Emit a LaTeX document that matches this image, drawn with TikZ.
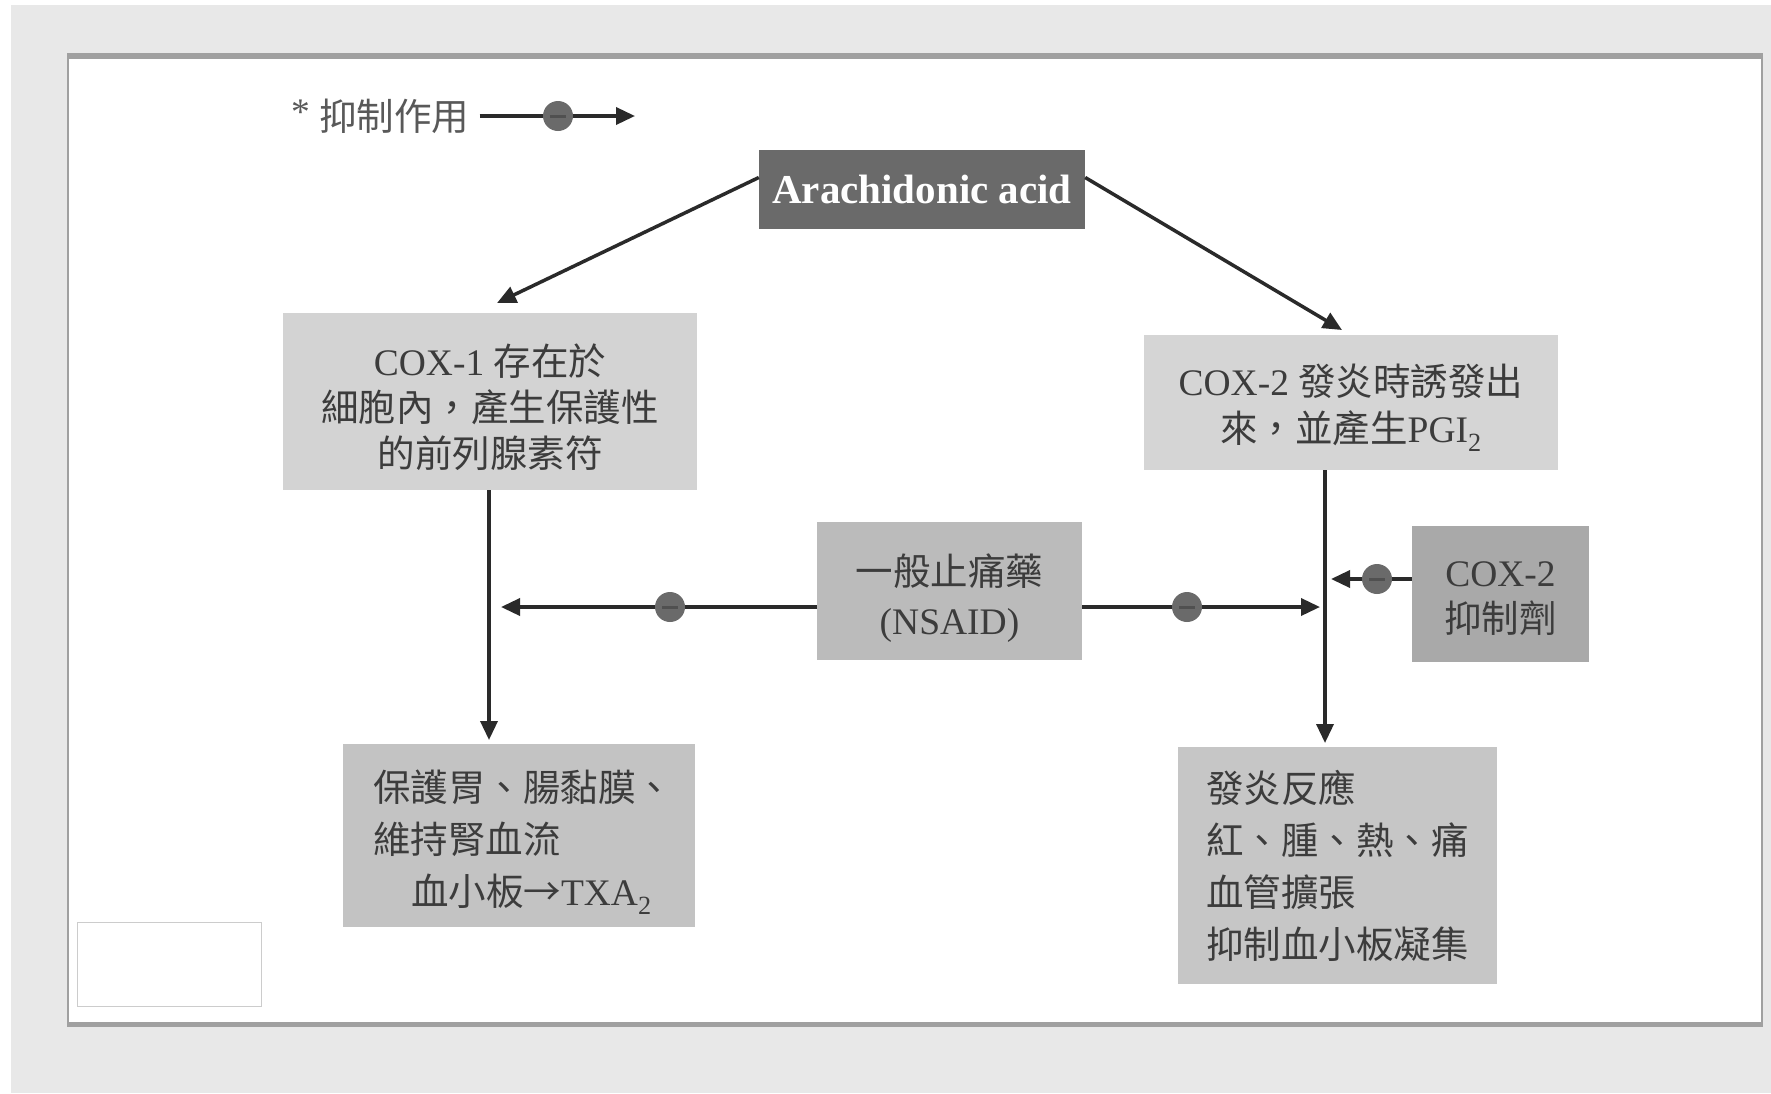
\documentclass[tikz,border=0pt]{standalone}
\usepackage{fontspec}
\setmainfont{Liberation Serif}
\newfontfamily\cjk{Noto Sans CJK TC}
\usetikzlibrary{arrows.meta,calc}
\definecolor{bgc}{HTML}{E8E8E8}
\definecolor{pbord}{HTML}{A0A0A0}
\definecolor{txt}{HTML}{3C3C3C}
\definecolor{ln}{HTML}{2A2A2A}
\definecolor{arc}{HTML}{6A6A6A}
\definecolor{cA}{HTML}{D3D3D3}
\definecolor{cB}{HTML}{D5D5D5}
\definecolor{cN}{HTML}{BBBBBB}
\definecolor{cI}{HTML}{A9A9A9}
\definecolor{cL}{HTML}{C3C3C3}
\definecolor{cR}{HTML}{C6C6C6}
\definecolor{inhc}{HTML}{6A6A6A}
\definecolor{inhd}{HTML}{505050}
\begin{document}
\begin{tikzpicture}[x=1pt,y=-1pt,
  box/.style={rectangle, inner sep=0pt},
  lab/.style={text=txt, align=center, inner sep=0pt},
  arr/.style={line width=3.5pt, draw=ln, -{Triangle[length=19pt,width=17pt]}},
  inh/.style={circle, fill=inhc, minimum size=30pt, inner sep=0pt,
    path picture={\draw[line width=3pt, inhd] ([xshift=-8pt]path picture bounding box.center) -- ([xshift=8pt]path picture bounding box.center);}}
]
\useasboundingbox (0,0) rectangle (1771,1093);
\fill[bgc] (0,0) rectangle (1771,1093);
\fill[white] (0,0) rectangle (11,1093);
\fill[white] (0,0) rectangle (1771,5);
% panel
\draw[pbord, fill=white, line width=1.5pt] (68,54) rectangle (1762,1026);
\draw[pbord, line width=5pt] (68,56) -- (1762,56);
\draw[pbord, line width=4pt] (68,1024) -- (1762,1024);
\draw[black!20, fill=white, line width=1pt] (77,922) rectangle (261,1006);

% legend
\node[anchor=west, inner sep=0pt, text=black!65, font=\fontsize{37.5}{37.5}\selectfont] (leg) at (291,116) {\raisebox{6pt}{*} {\cjk 抑制作用}};
\coordinate (legE) at (635,116);
\draw[arr, shorten <=10pt] (leg.east) -- (legE);
\node[inh] (legc) at (558,116) {};

% boxes
\node[box, fill=arc, text=white, font=\fontsize{41}{41}\selectfont\bfseries, minimum width=326pt, minimum height=79pt] (arach) at (922,189.5) {Arachidonic acid};

\node[box, fill=cA, minimum width=414pt, minimum height=177pt,
  label={[lab, yshift=-6pt, font=\fontsize{37.5}{46}\selectfont]center:{COX-1 {\cjk 存在於}\\{\cjk 細胞內，產生保護性}\\{\cjk 的前列腺素符}}}] (cox1) at (490,401.5) {};

\node[box, fill=cB, minimum width=414pt, minimum height=135pt,
  label={[lab, yshift=-5pt, font=\fontsize{37.5}{47}\selectfont]center:{COX-2 {\cjk 發炎時誘發出}\\{\cjk 來，並產生}PGI\textsubscript{2}}}] (cox2) at (1351,402.5) {};

\node[box, fill=cN, minimum width=265pt, minimum height=138pt,
  label={[lab, yshift=-7pt, font=\fontsize{37.5}{49}\selectfont]center:{{\cjk 一般止痛藥}\\(NSAID)}}] (nsaid) at (949.5,591) {};

\node[box, fill=cI, minimum width=177pt, minimum height=136pt,
  label={[lab, yshift=-5pt, font=\fontsize{37.5}{46}\selectfont]center:{COX-2\\{\cjk 抑制劑}}}] (inhib) at (1500.5,594) {};

\node[box, fill=cL, minimum width=352pt, minimum height=183pt,
  label={[lab, yshift=-7pt, xshift=4pt, text width=300pt, align=left, font=\fontsize{37.5}{52}\selectfont]center:{{\cjk 保護胃、腸黏膜、}\\{\cjk 維持腎血流}\\\hspace*{38pt}{\cjk 血小板→}TXA\textsubscript{2}}}] (bl) at (519,835.5) {};

\node[box, fill=cR, minimum width=319pt, minimum height=237pt,
  label={[lab, xshift=2pt, text width=267pt, align=left, font=\fontsize{37.5}{52}\selectfont]center:{{\cjk 發炎反應}\\{\cjk 紅、腫、熱、痛}\\{\cjk 血管擴張}\\{\cjk 抑制血小板凝集}}}] (br) at (1337.5,865.5) {};

% connectors
\coordinate (c1in) at (497,303);
\coordinate (c2in) at (1342,330);
\draw[arr] ($(arach.west)+(0,-12)$) -- (c1in);
\draw[arr] ($(arach.east)+(0,-12)$) -- (c2in);

\coordinate (lvTop) at (489,490);
\coordinate (lvBot) at (489,740);
\draw[arr] (lvTop) -- (lvBot);
\coordinate (rvTop) at (1325,470);
\coordinate (rvBot) at (1325,743);
\draw[arr] (rvTop) -- (rvBot);

\coordinate (nL) at (817,607);
\coordinate (nLend) at (501,607);
\draw[arr] (nL) -- (nLend);
\node[inh] (ic1) at (670,607) {};

\coordinate (nR) at (1082,607);
\coordinate (nRend) at (1320,607);
\draw[arr] (nR) -- (nRend);
\node[inh] (ic2) at (1187,607) {};

\coordinate (iS) at (1412,579);
\coordinate (iEnd) at (1331,579);
\draw[arr] (iS) -- (iEnd);
\node[inh] (ic3) at (1377,579) {};
\end{tikzpicture}
\end{document}
